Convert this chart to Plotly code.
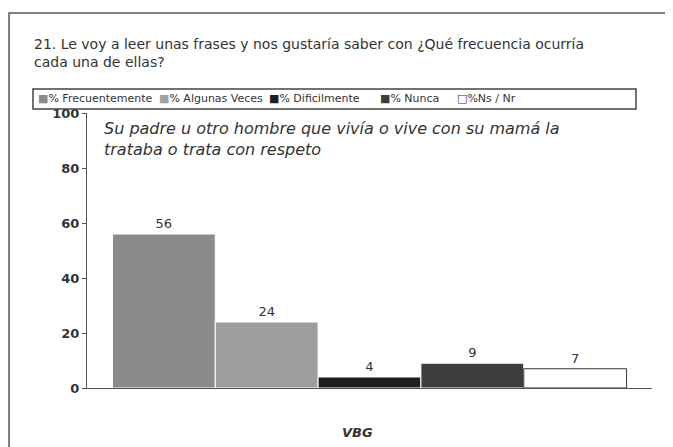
import plotly.graph_objects as go

categories = ["VBG"]
series_names = ["% Frecuentemente", "% Algunas Veces", "% Dificilmente", "% Nunca", "%Ns / Nr"]
series_values = [56, 24, 4, 9, 7]
tick_vals = [0, 20, 40, 60, 80, 100]
tick_text = ["0", "20", "40", "60", "80", "100"]

fill_colors = ["#8b8b8b", "#9d9d9d", "#1f1f1f", "#3d3d3d", "#ffffff"]
line_colors = ["#ffffff", "#ffffff", "#ffffff", "#ffffff", "#333333"]
legend_glyphs = ["■", "■", "■", "■", "□"]
legend_glyph_colors = ["#8b8b8b", "#a0a0a0", "#1f1f1f", "#3d3d3d", "#333333"]

FONT = "DejaVu Sans"
TXT = "#333333"

# the page has an 8px body margin; figure sized to fit the 673x447 window
OFF = 8
W, H = 673 - OFF, 447 - OFF
ml, mr, mt, mb = 79, 21, 105, 59
pw, ph = W - ml - mr, H - mt - mb


def px_x(x):
    return (x - OFF - ml) / pw


def px_y(y):
    return (H - mb - (y - OFF)) / ph


fig = go.Figure()
for name, val, fc, lc in zip(series_names, series_values, fill_colors, line_colors):
    fig.add_trace(go.Bar(
        x=categories, y=[val], name=name,
        marker=dict(color=fc, line=dict(color=lc, width=1)),
        text=[str(val)], textposition="outside",
        textfont=dict(family=FONT, size=13, color=TXT),
        cliponaxis=False, showlegend=False,
    ))

# manual legend (compact box like the reference)
legend_x = [36, 157, 267, 378, 455]
annotations = []
for name, g, gc, lx in zip(series_names, legend_glyphs, legend_glyph_colors, legend_x):
    annotations.append(dict(
        text=f'<span style="color:{gc}">{g}</span>{name}',
        xref="paper", yref="paper", x=px_x(lx), y=px_y(99),
        xanchor="left", yanchor="middle", showarrow=False,
        font=dict(family=FONT, size=11, color=TXT)))

annotations += [
    dict(text="21. Le voy a leer unas frases y nos gustaría saber con ¿Qué frecuencia ocurría<br>cada una de ellas?",
         xref="paper", yref="paper", x=px_x(32), y=px_y(34), xanchor="left", yanchor="top",
         align="left", showarrow=False,
         font=dict(family=FONT, size=14, color=TXT)),
    dict(text="<i>Su padre u otro hombre que vivía o vive con su mamá la<br>trataba o trata con respeto</i>",
         xref="paper", yref="paper", x=px_x(102), y=px_y(117), xanchor="left", yanchor="top",
         align="left", showarrow=False,
         font=dict(family=FONT, size=16, color=TXT)),
    dict(text="<b><i>VBG</i></b>", xref="paper", yref="paper", x=px_x(357), y=px_y(432),
         xanchor="center", yanchor="middle", showarrow=False,
         font=dict(family=FONT, size=13, color=TXT)),
]

shapes = [
    dict(type="rect", xref="paper", yref="paper",
         x0=px_x(9), x1=px_x(668), y0=px_y(470), y1=px_y(13),
         line=dict(color="#555555", width=1.5), fillcolor="rgba(0,0,0,0)"),
    dict(type="rect", xref="paper", yref="paper",
         x0=px_x(33), x1=px_x(636), y0=px_y(109), y1=px_y(89),
         line=dict(color="#444444", width=1.5), fillcolor="rgba(0,0,0,0)"),
]

fig.update_layout(
    width=W, height=H,
    margin=dict(l=ml, r=mr, t=mt, b=mb),
    paper_bgcolor="white", plot_bgcolor="white",
    barmode="group", bargap=0.09, bargroupgap=0.0,
    font=dict(family=FONT, color=TXT),
    showlegend=False,
    xaxis=dict(showticklabels=False, showline=True, linecolor="#555555", linewidth=1,
               ticks="", showgrid=False, zeroline=False),
    yaxis=dict(range=[0, 100], tickvals=tick_vals, ticktext=tick_text,
               showline=True, linecolor="#555555", linewidth=1,
               ticks="outside", ticklen=4, tickcolor="#555555",
               showgrid=False, zeroline=False,
               tickfont=dict(family=FONT, size=13, color=TXT, weight="bold")),
    shapes=shapes,
    annotations=annotations,
)

fig.write_html("out.html")
